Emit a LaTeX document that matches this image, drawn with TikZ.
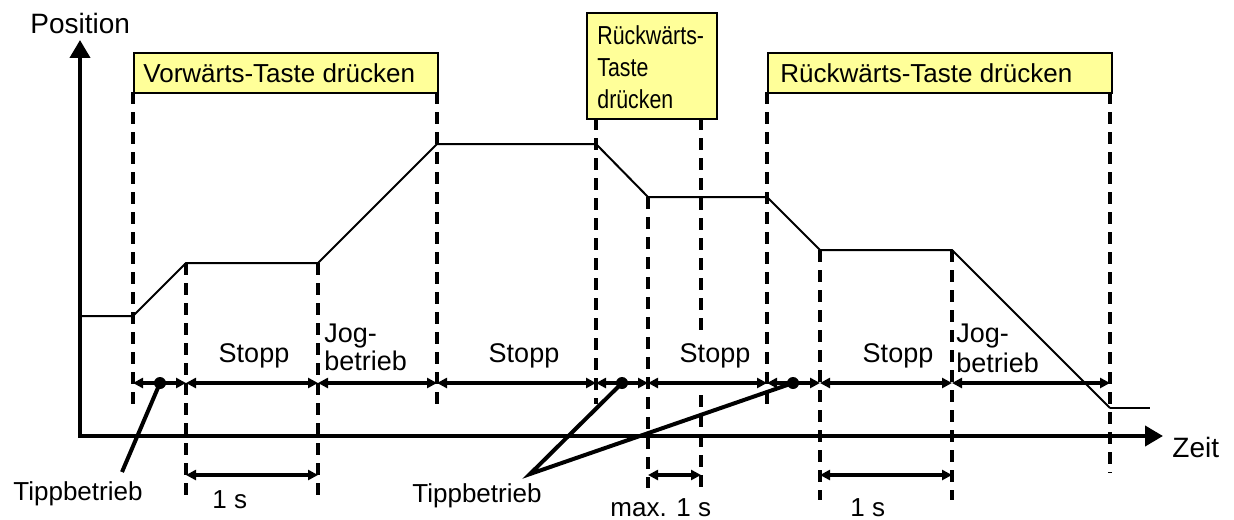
\documentclass[tikz,border=0pt]{standalone}
\usepackage{fontspec}
\setmainfont{Liberation Sans}
\usetikzlibrary{arrows.meta}
\definecolor{keyyellow}{HTML}{FFFF99}
\begin{document}
\begin{tikzpicture}[x=0.5pt,y=-0.5pt,
  axis/.style={line width=2pt,{Triangle[length=9pt,width=10pt]}-{Triangle[length=9pt,width=10pt]}},
  curve/.style={line width=1pt,line join=miter},
  guide/.style={line width=2pt,dash pattern=on 6pt off 4pt},
  span/.style={line width=2pt,{Triangle[length=5pt,width=5pt]}-{Triangle[length=5pt,width=5pt]}},
  lead/.style={line width=2pt},
  keybox/.style={draw,line width=1pt,fill=keyyellow,inner sep=0pt,anchor=north west},
  lbl/.style={inner sep=0pt,anchor=base west,font=\fontsize{13}{15.6}\selectfont},
  biglbl/.style={inner sep=0pt,anchor=base west,font=\fontsize{14}{16.8}\selectfont},
  phase/.style={inner sep=0pt,anchor=base,font=\fontsize{13.5}{16}\selectfont},
  jog/.style={inner sep=0pt,anchor=base west,font=\fontsize{13.5}{16}\selectfont},
  tipdot/.style={circle,fill=black,inner sep=0pt,minimum size=6pt},
]
\useasboundingbox (0,0) rectangle (1234,519);

% boxes
\node[keybox,minimum width=152pt,minimum height=20pt] (k1) at (133,52) {};
\node[keybox,minimum width=65pt,minimum height=53pt] (k2) at (586,12) {};
\node[keybox,minimum width=172pt,minimum height=20pt] (k3) at (767,52) {};
\node[lbl] (k1t) at (143,83) {Vorwärts-Taste drücken};
\node[lbl] (k2a) at (597,45) {\scalebox{0.82}[1]{Rückwärts-}};
\node[lbl] (k2b) at (597,76) {\scalebox{0.82}[1]{Taste}};
\node[lbl] (k2c) at (597,108) {\scalebox{0.82}[1]{drücken}};
\node[lbl] (k3t) at (780,83) {Rückwärts-Taste drücken};

% axes
\coordinate (ytip) at (80,40);
\coordinate (xtip) at (1163,436);
\draw[axis] (ytip) |- (xtip);
\node[biglbl] (ylab) at (30,34) {Position};
\node[biglbl] (xlab) at (1172,457) {Zeit};

% dashed guides
\foreach \n/\x/\ya/\yb in {g1/133/92/408, g2/186/263/500, g3/318/263/500,
  g4/437/92/408, g5/596/118/404, g6/648/197/488, g7/701/118/336, g7b/701/395/488,
  g8/767/92/408, g9/820/250/500, g10/952/250/500, g11/1110/92/473}{
  \coordinate (\n t) at (\x,\ya);
  \coordinate (\n b) at (\x,\yb);
  \draw[guide] (\n t) -- (\n b);
}

% position curve
\coordinate (p0) at (80,316);
\coordinate (p1) at (133,316);
\coordinate (p2) at (186,263);
\coordinate (p3) at (318,263);
\coordinate (p4) at (437,144);
\coordinate (p5) at (596,144);
\coordinate (p6) at (648,197);
\coordinate (p7) at (767,197);
\coordinate (p8) at (820,250);
\coordinate (p9) at (952,250);
\coordinate (p10) at (1110,408);
\coordinate (p11) at (1150,408);
\draw[curve] (p0) -- (p1) -- (p2) -- (p3) -- (p4) -- (p5) -- (p6) -- (p7) -- (p8) -- (p9) -- (p10);
\draw[curve] (p10) -- (p11);

% phase spans
\foreach \i/\x in {1/133,2/186,3/318,4/437,5/596,6/648,7/767,8/820,9/952,10/1110}{
  \coordinate (s\i) at (\x,383);
}
\foreach \a/\b in {1/2,2/3,3/4,4/5,5/6,6/7,7/8,8/9,9/10}{
  \draw[span] (s\a) -- (s\b);
}
\node[tipdot] (t1) at (160,383) {};
\node[tipdot] (t2) at (622,383) {};
\node[tipdot] (t3) at (793,383) {};

% phase labels
\node[phase] (st1) at (254,362) {Stopp};
\node[phase] (st2) at (524,362) {Stopp};
\node[phase] (st3) at (715,362) {Stopp};
\node[phase] (st4) at (898,362) {Stopp};
\node[jog] (j1a) at (324,342) {Jog-};
\node[jog] (j1b) at (324,370) {betrieb};
\node[jog] (j2a) at (956,342) {Jog-};
\node[jog] (j2b) at (956,372) {betrieb};

% Tippbetrieb leaders
\coordinate (l1) at (122,472);
\coordinate (l2) at (530,474);
\draw[lead] (l1) -- (t1.center);
\draw[lead] (t2.center) -- (l2) -- (t3.center);
\node[lbl] (tp1) at (13,500) {Tippbetrieb};
\node[lbl] (tp2) at (412,502) {Tippbetrieb};

% time measures
\coordinate (m1a) at (186,475); \coordinate (m1b) at (318,475);
\coordinate (m2a) at (648,475); \coordinate (m2b) at (701,475);
\coordinate (m3a) at (820,475); \coordinate (m3b) at (952,475);
\draw[span] (m1a) -- (m1b);
\draw[span] (m2a) -- (m2b);
\draw[span] (m3a) -- (m3b);
\node[lbl] (ms1) at (212,508) {1 s};
\node[lbl] (ms2) at (610,516) {max. 1 s};
\node[lbl] (ms3) at (850,516) {1 s};
\end{tikzpicture}
\end{document}
